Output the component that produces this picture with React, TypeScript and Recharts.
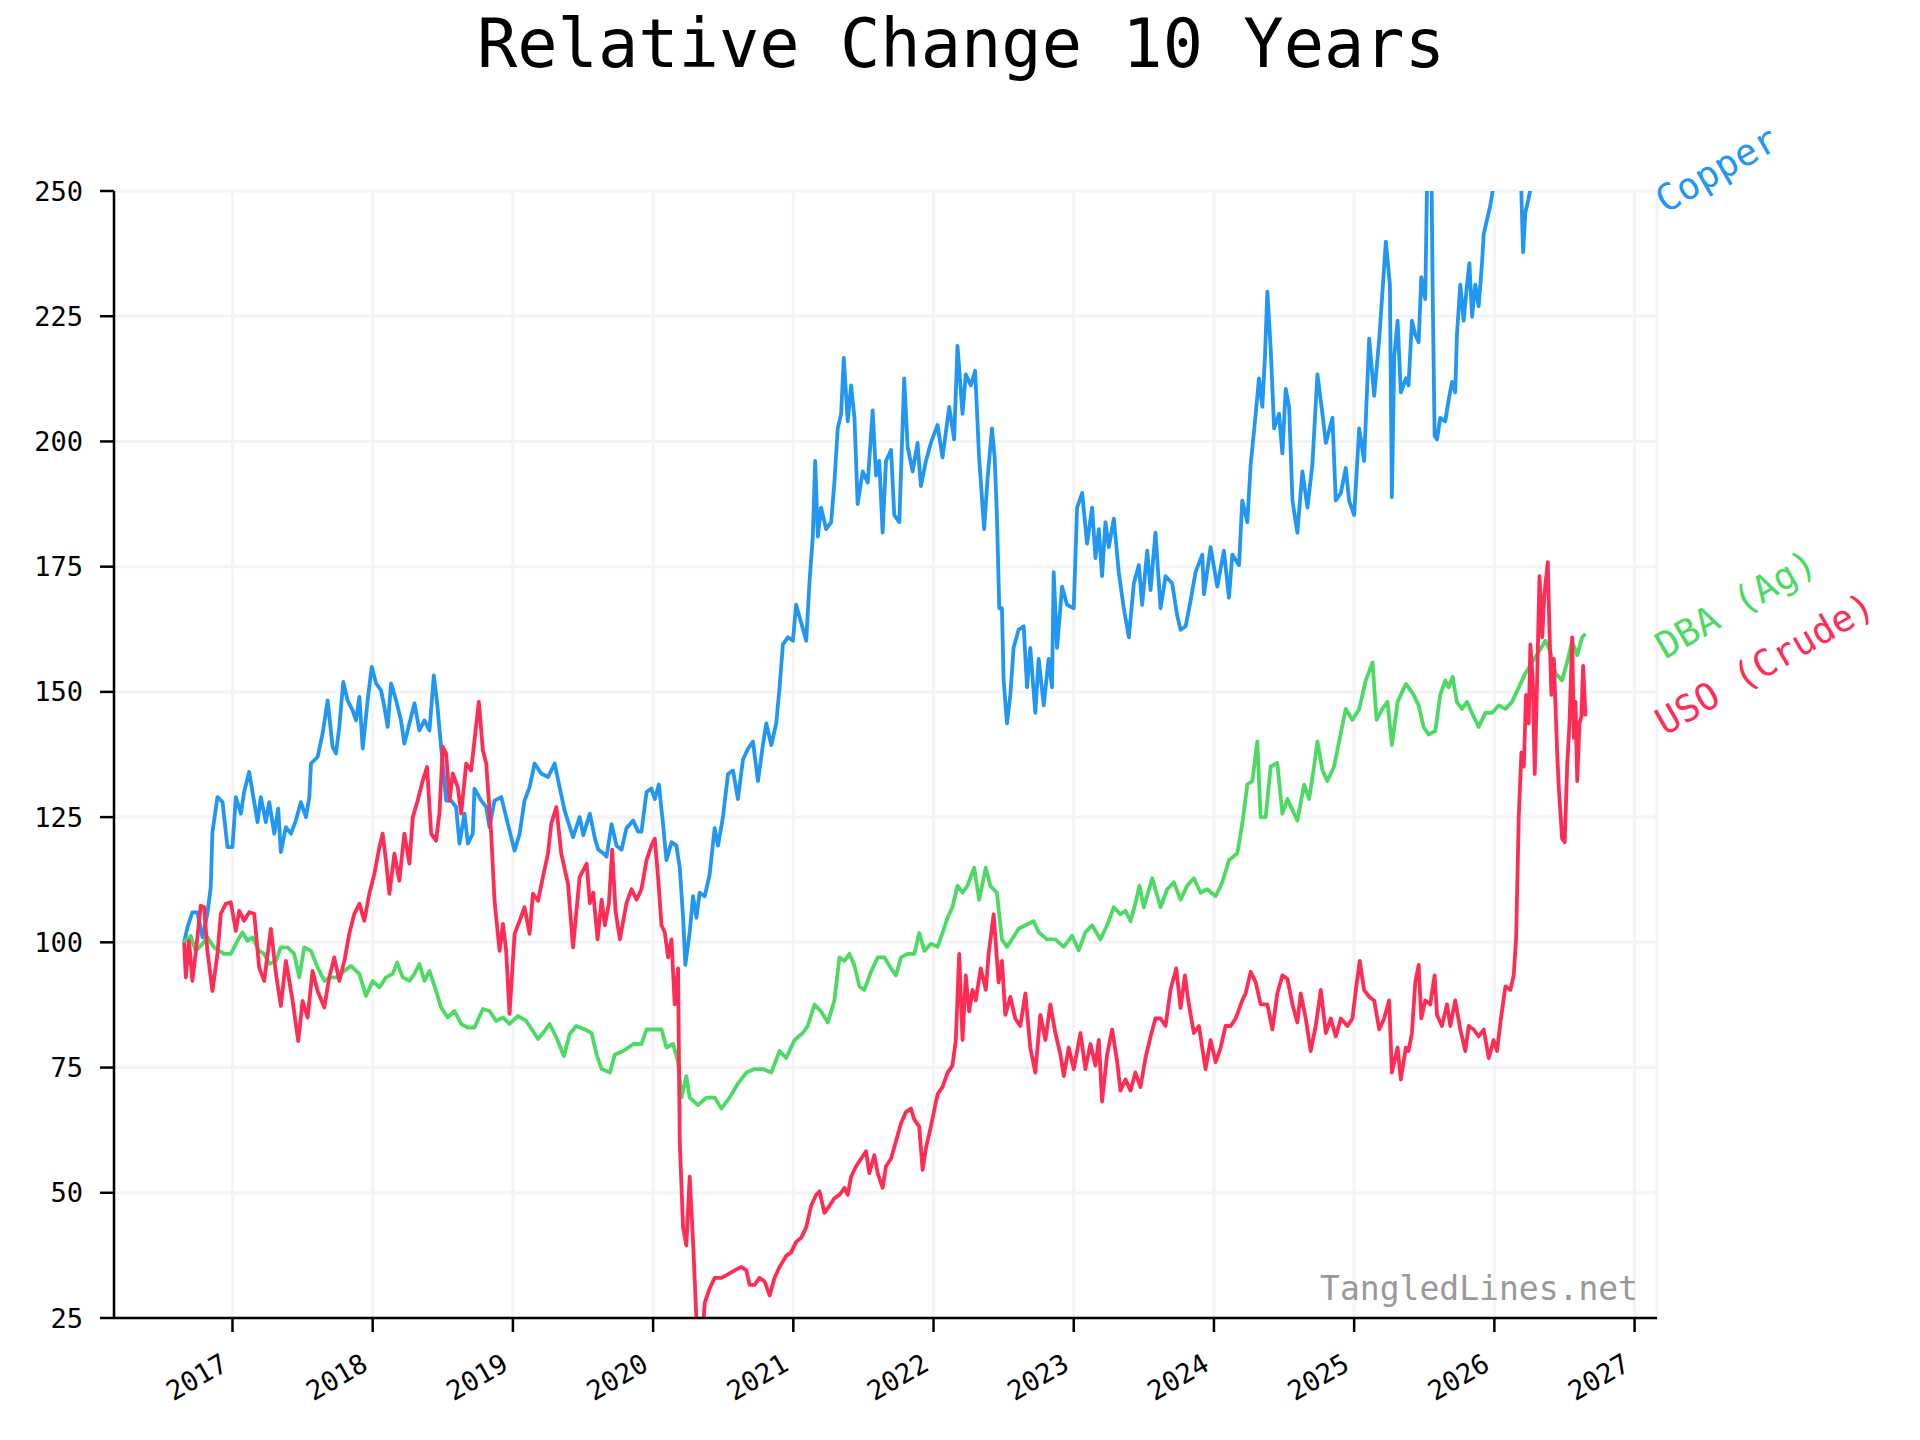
import React from 'react';
import { LineChart, Line, XAxis, YAxis, CartesianGrid, ReferenceDot } from 'recharts';

const FONT = '"DejaVu Sans Mono", monospace';

const yearTicks = [2017, 2018, 2019, 2020, 2021, 2022, 2023, 2024, 2025, 2026, 2027];
const valueTicks = [25, 50, 75, 100, 125, 150, 175, 200, 225, 250];

const copperSeries: [number, number][] = [
  [2016.655,100],[2016.679,103],[2016.714,106],[2016.750,106],[2016.786,101],[2016.821,105.7],[2016.845,111],[2016.857,122],[2016.893,129],[2016.929,128],[2016.964,119],[2017.000,119],[2017.024,129],[2017.060,125.7],[2017.083,130],[2017.119,134],[2017.143,130],[2017.179,124],[2017.202,129],[2017.238,124],[2017.262,128],[2017.298,121.7],[2017.326,126.7],[2017.345,118],[2017.381,123],[2017.417,121.7],[2017.452,124.3],[2017.488,128],[2017.524,125],[2017.548,129],[2017.560,135.7],[2017.607,137],[2017.643,141.7],[2017.679,148.3],[2017.714,139],[2017.738,137.7],[2017.762,143],[2017.790,152],[2017.821,148.3],[2017.857,146.3],[2017.881,144.3],[2017.905,149],[2017.929,138.7],[2017.964,148.3],[2017.993,155],[2018.024,151.7],[2018.060,150.3],[2018.083,147],[2018.107,143],[2018.131,151.7],[2018.167,148.3],[2018.202,144.3],[2018.226,139.7],[2018.262,143.7],[2018.298,147.7],[2018.333,142.3],[2018.369,144.3],[2018.405,142.3],[2018.436,153.3],[2018.460,147.7],[2018.488,139],[2018.524,128.3],[2018.560,128.3],[2018.595,127],[2018.619,119.7],[2018.655,125.7],[2018.679,119.7],[2018.714,121.7],[2018.726,130.7],[2018.774,128.3],[2018.810,127],[2018.833,123],[2018.869,128.3],[2018.917,129],[2018.952,125],[2019.012,118.3],[2019.048,121.7],[2019.083,128.3],[2019.119,131],[2019.155,135.7],[2019.202,133.7],[2019.250,133],[2019.298,135.7],[2019.333,131],[2019.369,126.3],[2019.429,121],[2019.476,125],
  [2019.502,121.4],[2019.549,125.7],[2019.585,120.7],[2019.609,118.5],[2019.644,117.8],[2019.668,117.1],[2019.704,123.6],[2019.739,119.3],[2019.775,118.5],[2019.810,122.8],[2019.858,124.3],[2019.893,122.1],[2019.917,122.1],[2019.953,130],[2019.988,130.7],[2020.012,128.6],[2020.041,131.5],[2020.071,123.6],[2020.095,116.4],[2020.131,120],[2020.166,119.3],[2020.190,115],[2020.214,104.9],[2020.230,95.5],[2020.261,102],[2020.285,109.2],[2020.309,104.9],[2020.332,109.9],[2020.368,109.2],[2020.403,113.5],[2020.439,122.8],[2020.463,119.3],[2020.498,125],[2020.534,133.6],[2020.570,134.3],[2020.605,128.6],[2020.641,136.5],[2020.676,138.6],[2020.712,140.1],[2020.748,132.2],[2020.783,139.4],[2020.807,143.7],[2020.843,139.4],[2020.878,143.7],[2020.902,150.9],[2020.926,159.5],[2020.961,160.9],[2020.997,160.2],[2021.020,167.4],[2021.056,163.8],[2021.092,160.2],[2021.115,171.7],[2021.139,181],[2021.156,196.1],[2021.175,181],[2021.198,186.8],[2021.234,182.5],[2021.270,183.9],[2021.293,191.8],[2021.317,202.6],[2021.341,205.5],[2021.360,216.7],[2021.388,204],[2021.412,211.2],[2021.436,204.7],[2021.459,187.5],[2021.495,194],[2021.531,191.8],[2021.566,206.2],[2021.590,193.2],[2021.613,196.1],[2021.637,181.8],[2021.661,196.1],[2021.697,198.3],[2021.720,185.3],[2021.756,183.9],[2021.791,212.6],[2021.815,199],[2021.851,194],[2021.886,199.7],[2021.910,191.1],[2021.946,196.1],[2021.981,199.7],[2022.029,203.3],[2022.064,196.8],[2022.112,206.9],[2022.147,200.4],[2022.171,219.1],[2022.207,205.5],[2022.230,213.4],[2022.266,211.2],[2022.297,214.1],[2022.325,196.8],[2022.361,182.5],[2022.385,192.5],
  [2022.417,202.6],[2022.436,196.8],[2022.452,185.3],[2022.469,166.7],[2022.488,166.7],[2022.500,152.3],[2022.524,143.7],[2022.548,149.4],[2022.571,158.8],[2022.607,162.4],[2022.643,163.1],[2022.667,150.9],[2022.690,158.8],[2022.726,145.8],[2022.750,156.6],[2022.786,147.3],[2022.821,156.6],[2022.845,150.9],[2022.857,173.9],[2022.881,158.8],[2022.917,171],[2022.952,167.4],[2023.000,166.7],[2023.024,186.8],[2023.060,189.7],[2023.095,179.6],[2023.131,186.8],[2023.155,176.7],[2023.179,182.5],[2023.202,173.1],[2023.226,183.9],[2023.250,178.9],[2023.286,184.6],[2023.321,173.9],[2023.357,166.7],[2023.393,160.9],[2023.429,171.7],[2023.464,175.3],[2023.488,167.4],[2023.524,178.2],[2023.548,170.3],[2023.583,181.8],[2023.619,166.7],[2023.655,173.1],[2023.702,171.7],[2023.738,165.2],[2023.762,162.4],[2023.798,163.1],[2023.833,168.1],[2023.869,173.9],[2023.917,177.4],[2023.929,169.5],[2023.976,178.9],[2024.024,171],[2024.071,178.2],[2024.107,168.8],[2024.131,177.4],[2024.179,175.3],[2024.202,188.2],[2024.238,183.9],[2024.262,195.4],[2024.298,205.5],[2024.321,212.6],[2024.345,206.9],[2024.364,217],[2024.381,229.9],[2024.405,218.4],[2024.429,202.6],[2024.464,205.5],[2024.488,197.6],[2024.512,210.5],[2024.536,206.9],[2024.560,188.2],[2024.595,181.8],[2024.631,194],[2024.667,186.8],[2024.702,195.4],[2024.738,213.4],[2024.774,205.5],[2024.798,199.7],[2024.845,204.7],[2024.869,188.2],[2024.905,189.7],[2024.940,194.7],[2024.964,188.2],[2025.000,185.3],[2025.036,202.6],[2025.071,196.1],[2025.107,220.5],[2025.143,209.1],[2025.179,220.5],[2025.202,229.9],[2025.226,239.9],[2025.255,231.3],[2025.269,188.9],[2025.286,217],[2025.310,224.1],[2025.333,209.8],[2025.369,212.6],
  [2025.388,211.2],[2025.412,224.1],[2025.436,221.3],[2025.460,219.8],[2025.479,232.8],[2025.507,228.4],[2025.519,250],[2025.531,262],[2025.550,258],[2025.560,230],[2025.574,201.1],[2025.591,200.4],[2025.614,204.7],[2025.650,204],[2025.674,208.3],[2025.698,211.9],[2025.721,209.8],[2025.733,221.3],[2025.757,231.3],[2025.781,224.1],[2025.805,231.3],[2025.822,235.6],[2025.841,224.9],[2025.864,231.3],[2025.888,227],[2025.912,235.6],[2025.924,241.4],[2025.948,244.3],[2025.971,247.1],[2025.988,250],[2026.007,254],[2026.055,258],[2026.102,262],[2026.150,260],[2026.186,256],[2026.205,237.8],[2026.221,245.7],[2026.245,248.6],[2026.269,252],[2026.317,258],[2026.388,263],[2026.460,266],[2026.531,262],[2026.602,268],[2026.650,265],
];

const dbaSeries: [number, number][] = [
  [2016.655,100],[2016.702,101.3],[2016.738,98.3],[2016.786,99.7],[2016.821,101],[2016.869,99],[2016.940,97.7],[2016.988,97.7],[2017.036,100.3],[2017.071,102],[2017.107,100.3],[2017.143,101],[2017.190,98.3],[2017.226,97.7],[2017.262,95.7],[2017.310,96.3],[2017.345,99],[2017.393,99],[2017.440,97.7],[2017.476,93],[2017.512,99],[2017.560,98.3],[2017.607,95],[2017.655,92.3],[2017.702,93],[2017.750,93],[2017.798,94.3],[2017.845,95.3],[2017.905,93.7],[2017.952,89.3],[2018.000,92.3],[2018.048,91],[2018.095,93],[2018.143,93.7],[2018.174,96],[2018.214,93],[2018.262,92.3],[2018.298,93.7],[2018.333,95.7],[2018.369,92.3],[2018.405,94.3],[2018.452,90.3],[2018.488,87],[2018.536,85],[2018.583,86.3],[2018.631,83.7],[2018.679,83],[2018.726,83],[2018.786,86.7],[2018.833,86.3],[2018.881,84.3],[2018.929,85],[2018.976,83.7],[2019.036,85.3],[2019.095,84.3],[2019.143,82.3],[2019.179,80.7],[2019.226,82.3],[2019.262,83.7],[2019.310,81],[2019.364,77.3],[2019.405,81.7],[2019.452,83.3],
  [2019.514,82.6],[2019.561,81.9],[2019.597,77.6],[2019.633,74.7],[2019.692,74],[2019.727,77.6],[2019.787,78.3],[2019.858,79.7],[2019.917,79.7],[2019.953,82.6],[2020.012,82.6],[2020.060,82.6],[2020.095,79],[2020.143,79.7],[2020.178,76.1],[2020.202,69],[2020.237,73.3],[2020.261,69],[2020.320,67.5],[2020.380,69],[2020.439,69],[2020.487,66.8],[2020.546,69],[2020.605,71.8],[2020.665,74],[2020.724,74.7],[2020.783,74.7],[2020.843,74],[2020.902,78.3],[2020.949,76.9],[2021.009,80.5],[2021.068,81.9],[2021.103,83.3],[2021.151,87.6],[2021.198,86.2],[2021.246,84],[2021.293,88.4],[2021.329,97],[2021.365,96.3],[2021.400,97.7],[2021.436,95.4],[2021.471,91.2],[2021.507,90.5],[2021.554,94.1],[2021.602,97],[2021.649,97],[2021.697,94.8],[2021.732,93.4],[2021.768,97],[2021.815,97.7],[2021.863,97.7],[2021.898,101.9],[2021.934,98.3],[2021.981,99.7],[2022.029,99.1],[2022.064,101.9],[2022.100,104.9],[2022.135,107],[2022.171,111.3],[2022.207,109.9],[2022.242,111.3],[2022.290,114.9],[2022.325,108.5],[2022.373,114.9],
  [2022.405,111.3],[2022.452,109.9],[2022.488,100.6],[2022.524,99.1],[2022.560,100.6],[2022.607,102.7],[2022.655,103.4],[2022.714,104.2],[2022.750,102],[2022.809,100.6],[2022.869,100.6],[2022.929,99.1],[2022.988,101.3],[2023.036,98.4],[2023.083,102],[2023.131,103.4],[2023.190,100.6],[2023.238,103.4],[2023.286,107],[2023.333,105.6],[2023.369,106.3],[2023.405,104.2],[2023.440,107.8],[2023.469,111.3],[2023.500,107],[2023.560,112.8],[2023.619,107],[2023.667,110.6],[2023.714,112],[2023.762,108.5],[2023.809,111.3],[2023.857,112.8],[2023.905,109.9],[2023.952,110.6],[2024.012,109.2],[2024.060,112],[2024.107,116.4],[2024.167,117.8],[2024.202,123.6],[2024.238,131.5],[2024.274,132.2],[2024.309,140.1],[2024.333,125],[2024.369,125],[2024.405,135.1],[2024.452,135.8],[2024.488,125.7],[2024.524,128.6],[2024.560,126.4],[2024.595,124.3],[2024.643,131.5],[2024.679,128.6],[2024.714,135.1],[2024.738,140.1],[2024.774,134.3],[2024.809,132.2],[2024.857,135.1],[2024.893,140.1],[2024.940,146.6],[2024.988,144.4],[2025.036,146.6],[2025.083,152.3],[2025.131,155.9],[2025.160,144.4],[2025.202,146.6],[2025.238,148],[2025.269,139.4],[2025.310,148],[2025.369,151.6],
  [2025.388,150.9],[2025.424,149.4],[2025.460,147.3],[2025.495,143],[2025.531,141.5],[2025.579,142.2],[2025.614,149.4],[2025.650,152.3],[2025.674,150.9],[2025.702,153],[2025.733,148],[2025.769,146.6],[2025.805,148],[2025.852,145.1],[2025.888,143],[2025.936,145.8],[2025.983,145.8],[2026.031,147.3],[2026.079,146.6],[2026.126,148],[2026.174,150.9],[2026.221,153.7],[2026.269,155.9],[2026.317,158],[2026.364,160.2],[2026.400,158],[2026.436,153.7],[2026.483,152.3],[2026.519,155.9],[2026.555,160.2],[2026.591,157.3],[2026.626,160.9],[2026.650,161.6],
];

const usoSeries: [number, number][] = [
  [2016.655,100],[2016.667,93],[2016.690,100.3],[2016.714,92.3],[2016.738,98],[2016.774,107.3],[2016.798,107],[2016.821,98.3],[2016.857,90.3],[2016.893,97.7],[2016.917,105.7],[2016.952,107.7],[2016.988,108],[2017.024,102.3],[2017.048,106.3],[2017.083,104.3],[2017.119,106],[2017.155,105.7],[2017.190,95],[2017.226,92.3],[2017.274,102.7],[2017.310,93.7],[2017.345,87.3],[2017.381,96.3],[2017.429,88.3],[2017.469,80.3],[2017.500,88.3],[2017.536,85],[2017.571,94.3],[2017.607,90.3],[2017.655,87],[2017.690,93],[2017.726,97],[2017.762,92.3],[2017.798,96.3],[2017.833,101.7],[2017.869,105.7],[2017.905,107.7],[2017.940,104.3],[2017.976,109.7],[2018.012,113.7],[2018.048,119],[2018.071,121.7],[2018.095,116.3],[2018.119,109.7],[2018.155,117.7],[2018.190,112.3],[2018.226,121.7],[2018.262,115.7],[2018.286,125],[2018.321,128.3],[2018.357,132.3],[2018.388,135],[2018.417,121.7],[2018.452,120.3],[2018.476,125.7],[2018.500,139],[2018.524,137.7],[2018.548,128.3],[2018.571,133.7],[2018.607,131],[2018.631,125.7],[2018.667,135.7],[2018.702,134.3],[2018.726,140.3],[2018.757,148],[2018.786,138.3],[2018.810,135.7],[2018.845,121.7],[2018.869,108.3],[2018.905,98.3],[2018.929,103.7],[2018.952,98.3],[2018.976,85.7],[2019.012,101.7],[2019.048,104.3],[2019.083,107],[2019.119,101.7],[2019.143,109.7],[2019.179,108.3],[2019.214,113],[2019.250,117.7],[2019.274,123.7],[2019.310,127],[2019.345,117.7],[2019.393,111.7],[2019.429,99],[2019.476,113],
  [2019.526,115.7],[2019.549,107.8],[2019.573,109.9],[2019.604,100.6],[2019.633,108.5],[2019.656,103.4],[2019.685,107.8],[2019.708,118.5],[2019.732,106.3],[2019.763,100.6],[2019.810,107.8],[2019.846,110.6],[2019.882,108.5],[2019.917,110.6],[2019.953,116.4],[2019.988,119.3],[2020.012,120.7],[2020.036,112.8],[2020.060,103.4],[2020.083,102],[2020.107,97],[2020.131,100.6],[2020.154,87.6],[2020.178,94.8],[2020.190,60.3],[2020.214,43.1],[2020.237,39.5],[2020.261,53.2],[2020.285,40.2],[2020.309,24.7],[2020.332,15],[2020.349,20],[2020.368,28],[2020.403,30.9],[2020.439,33],[2020.487,33],[2020.534,33.7],[2020.582,34.5],[2020.629,35.2],[2020.665,34.5],[2020.688,31.6],[2020.724,31.6],[2020.759,33],[2020.795,32.3],[2020.831,29.5],[2020.866,33],[2020.902,35.2],[2020.949,37.4],[2020.985,38.1],[2021.020,40.2],[2021.056,41],[2021.092,43.1],[2021.127,47.4],[2021.163,49.6],[2021.187,50.3],[2021.222,46],[2021.258,47.4],[2021.293,48.9],[2021.329,49.6],[2021.365,51],[2021.388,49.6],[2021.412,53.2],[2021.448,55.3],[2021.483,56.8],[2021.519,58.3],[2021.542,53.9],[2021.578,57.5],[2021.602,53.9],[2021.637,51],[2021.661,55.3],[2021.697,56.8],[2021.732,60.3],[2021.768,63.9],[2021.803,66.1],[2021.839,66.8],[2021.863,64.6],[2021.898,63.2],[2021.922,54.6],[2021.946,58.9],[2021.981,63.2],[2022.029,69.7],[2022.064,71.1],[2022.100,74],[2022.135,75.4],[2022.159,80.5],[2022.183,97.7],[2022.207,80.5],[2022.230,93.4],[2022.254,86.2],[2022.278,90.5],[2022.301,88.4],[2022.337,94.8],[2022.373,90.5],
  [2022.393,97.7],[2022.429,105.6],[2022.464,92],[2022.488,96.3],[2022.512,85.5],[2022.548,89.1],[2022.583,84.8],[2022.619,83.3],[2022.655,89.8],[2022.690,79],[2022.726,74],[2022.762,85.5],[2022.798,80.5],[2022.833,87.6],[2022.869,81.9],[2022.905,77.6],[2022.929,73.3],[2022.964,79],[2023.000,74.7],[2023.048,81.9],[2023.083,74.7],[2023.119,79.7],[2023.155,75.4],[2023.179,80.5],[2023.202,68.2],[2023.238,77.6],[2023.274,82.6],[2023.310,76.1],[2023.333,70.4],[2023.369,72.6],[2023.405,70.4],[2023.440,74],[2023.476,71.1],[2023.512,76.9],[2023.548,81.2],[2023.583,84.8],[2023.619,84.8],[2023.655,83.3],[2023.690,90.5],[2023.731,94.8],[2023.762,86.9],[2023.793,93.4],[2023.821,87.6],[2023.857,81.9],[2023.893,83.3],[2023.940,74.7],[2023.976,80.5],[2024.012,76.1],[2024.048,79],[2024.083,83.3],[2024.119,83.3],[2024.155,84.8],[2024.202,88.4],[2024.226,89.8],[2024.262,94.1],[2024.298,92],[2024.333,87.6],[2024.381,87.6],[2024.417,82.6],[2024.452,89.8],[2024.488,93.4],[2024.524,92.7],[2024.560,87.6],[2024.595,84],[2024.619,89.8],[2024.655,84.8],[2024.690,78.3],[2024.726,83.3],[2024.762,90.5],[2024.798,81.9],[2024.833,84.8],[2024.869,81.2],[2024.905,84.8],[2024.952,83.3],[2024.988,84.8],[2025.012,90.5],[2025.040,96.3],[2025.071,90.5],[2025.107,89.1],[2025.143,88.4],[2025.179,82.6],[2025.214,84.8],[2025.250,88.4],[2025.269,74],[2025.310,79],[2025.333,72.6],[2025.369,79],
  [2025.388,78.3],[2025.412,81.9],[2025.436,92],[2025.460,95.5],[2025.479,84.8],[2025.507,88.4],[2025.543,87.6],[2025.574,93.4],[2025.591,85.5],[2025.626,83.3],[2025.662,87.6],[2025.686,83.3],[2025.721,88.4],[2025.757,82.6],[2025.793,78.3],[2025.817,83.3],[2025.852,82.6],[2025.888,81.2],[2025.924,82.6],[2025.960,76.9],[2025.995,80.5],[2026.019,78.3],[2026.043,84],[2026.079,91.2],[2026.114,90.5],[2026.138,93.4],[2026.155,100.6],[2026.174,125],[2026.193,137.9],[2026.210,135.1],[2026.226,149.4],[2026.245,143.7],[2026.257,159.5],[2026.274,152.3],[2026.288,133.6],[2026.305,152.3],[2026.322,173.1],[2026.341,160.9],[2026.357,169.5],[2026.381,175.9],[2026.393,162.4],[2026.407,149.4],[2026.424,156.6],[2026.448,137.9],[2026.460,130.7],[2026.483,120.7],[2026.502,120],[2026.519,135.1],[2026.536,143.7],[2026.555,160.9],[2026.567,140.8],[2026.579,148],[2026.591,132.2],[2026.607,143.7],[2026.621,145.1],[2026.633,155.2],[2026.650,145.1],
];

const seriesNames = ['Copper', 'DBA (Ag)', 'USO (Crude)'];
const seriesColors = ['#2196f3', '#4cd964', '#ff2d55'];
const labelValues = [245.4, 156.4, 141.2];

const X_MIN = 2016.155;
const X_MAX = 2027.16;

const toRows = (s: [number, number][]) => s.map(([x, y]) => ({ x, y }));
const seriesData = [toRows(copperSeries), toRows(dbaSeries), toRows(usoSeries)];

const XTick = (props: any) => {
  const { x, y, payload } = props;
  return (
    <g transform={`translate(${x - 3},${y + 37})`}>
      <text textAnchor="end" transform="rotate(-30)" fontSize={27} fontFamily={FONT} fill="#000">
        {payload.value}
      </text>
    </g>
  );
};

const makeLabelShape = (name: string, color: string) => (p: any) => (
  <text
    x={p.cx + 8}
    y={p.cy}
    transform={`rotate(-30 ${p.cx + 8} ${p.cy})`}
    fill={color}
    fontSize={37}
    fontFamily={FONT}
  >
    {name}
  </text>
);

export default function App() {
  return (
    <div style={{ position: 'absolute', left: 0, top: 0, width: 1920, height: 1440, background: '#fff' }}>
      <LineChart width={1920} height={1440} margin={{ top: 191, right: 263, bottom: 0, left: 0 }}>
        <CartesianGrid stroke="#f4f4f4" strokeWidth={3} />
        <XAxis
          type="number"
          dataKey="x"
          domain={[X_MIN, X_MAX]}
          ticks={yearTicks}
          interval={0}
          allowDataOverflow
          height={122}
          tickSize={14}
          tickMargin={0}
          axisLine={{ stroke: '#000', strokeWidth: 2.5 }}
          tickLine={{ stroke: '#000', strokeWidth: 2.5 }}
          tick={<XTick />}
        />
        <YAxis
          type="number"
          domain={[25, 250]}
          ticks={valueTicks}
          interval={0}
          allowDataOverflow
          width={114}
          tickSize={14}
          tickMargin={17}
          axisLine={{ stroke: '#000', strokeWidth: 2.5 }}
          tickLine={{ stroke: '#000', strokeWidth: 2.5 }}
          tick={{ fontSize: 27, fontFamily: FONT, fill: '#000' }}
        />
        {seriesData.map((d, i) => (
          <Line
            key={seriesNames[i]}
            data={d}
            dataKey="y"
            type="linear"
            stroke={seriesColors[i]}
            strokeWidth={3.8}
            strokeLinejoin="round"
            dot={false}
            activeDot={false}
            isAnimationActive={false}
          />
        ))}
        {seriesNames.map((n, i) => (
          <ReferenceDot
            key={'lbl' + n}
            x={X_MAX}
            y={labelValues[i]}
            r={0}
            ifOverflow="visible"
            shape={makeLabelShape(n, seriesColors[i])}
          />
        ))}
      </LineChart>
      <svg width={1920} height={1440} style={{ position: 'absolute', left: 0, top: 0, pointerEvents: 'none' }}>
        <text x={961} y={67} textAnchor="middle" fontSize={67} fontFamily={FONT} fill="#000">
          Relative Change 10 Years
        </text>
        <text x={1638} y={1300} textAnchor="end" fontSize={33} fontFamily={FONT} fill="#999999">
          TangledLines.net
        </text>
      </svg>
    </div>
  );
}
